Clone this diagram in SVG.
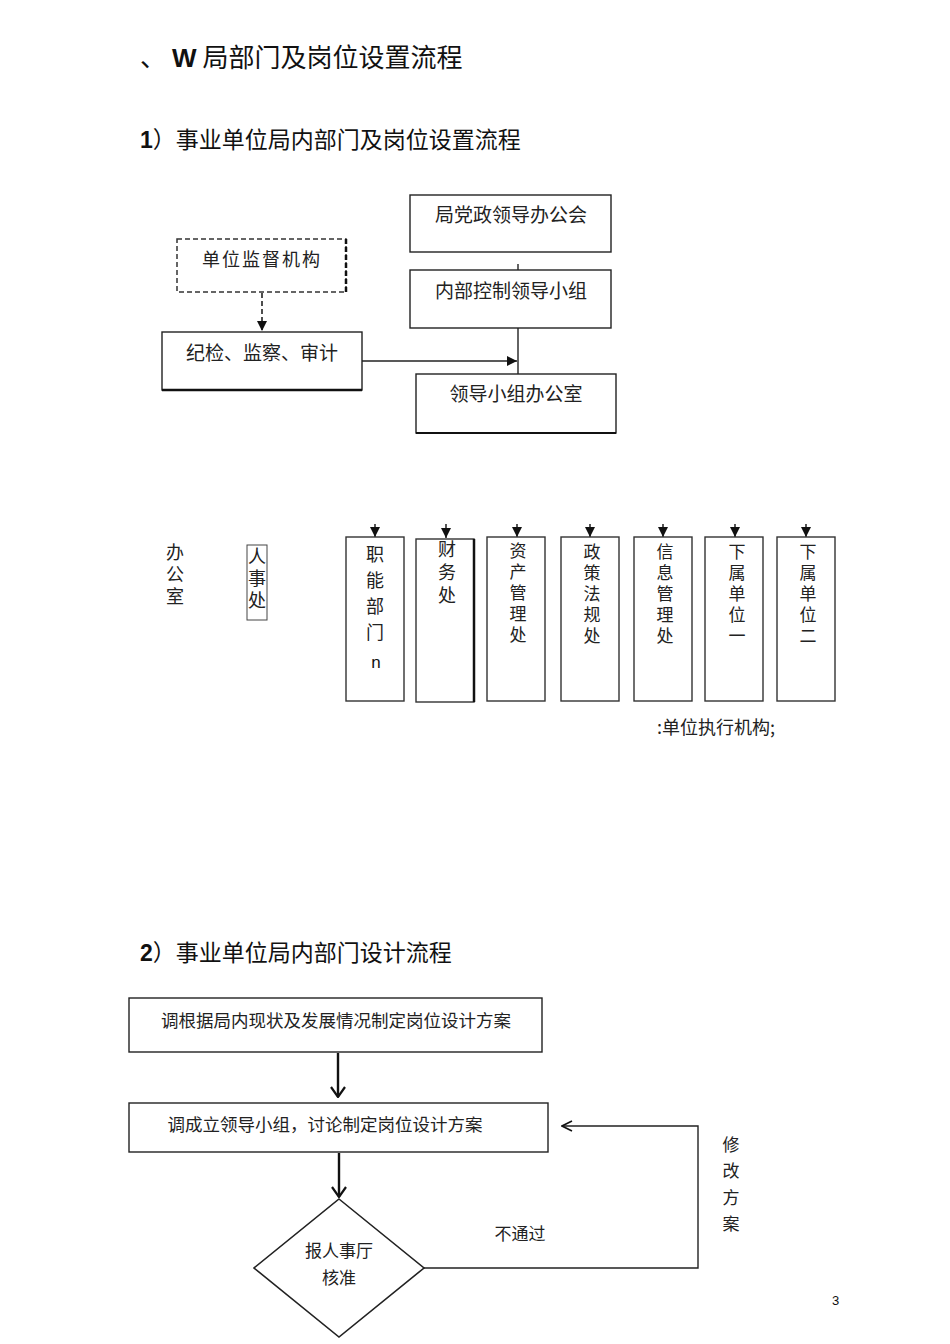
<svg xmlns="http://www.w3.org/2000/svg" width="950" height="1344" viewBox="0 0 950 1344">
<defs>
<style>
.t{font-family:"Noto Sans CJK SC","Liberation Sans",sans-serif;fill:#222;}
.h{font-family:"Liberation Sans","Noto Sans CJK SC",sans-serif;fill:#111;}
.v{writing-mode:vertical-rl;text-orientation:upright;}
.box{fill:#fff;stroke:#222;stroke-width:1.4;}
.col{fill:#fff;stroke:#333;stroke-width:1.4;}
.ln{fill:none;stroke:#222;stroke-width:1.4;}
.bt{font-size:19px;text-anchor:middle;}
.c5{font-size:17px;letter-spacing:4px;}
</style>
<marker id="tri" viewBox="0 0 10 10" refX="10" refY="5" markerWidth="10" markerHeight="10" markerUnits="userSpaceOnUse" orient="auto">
<path d="M0,0 L10,5 L0,10 z" fill="#111"/>
</marker>
<marker id="chev" viewBox="0 0 12 16" refX="11" refY="8" markerWidth="12" markerHeight="16" markerUnits="userSpaceOnUse" orient="auto">
<path d="M1,1 L11,8 L1,15" fill="none" stroke="#111" stroke-width="2.2"/>
</marker>
<marker id="chev2" viewBox="0 0 12 12" refX="11" refY="6" markerWidth="12" markerHeight="12" markerUnits="userSpaceOnUse" orient="auto">
<path d="M1,1 L11,6 L1,11" fill="none" stroke="#111" stroke-width="1.6"/>
</marker>
</defs>
<rect width="950" height="1344" fill="#fff"/>

<g id="titles">
<text class="h" x="140" y="67" font-size="26">、<tspan font-weight="bold" dx="6">W</tspan><tspan dx="6">局部门及岗位设置流程</tspan></text>
<text class="h" x="140" y="148" font-size="23"><tspan font-weight="bold">1</tspan>）事业单位局内部门及岗位设置流程</text>
<text class="h" x="140" y="961" font-size="23"><tspan font-weight="bold">2</tspan>）事业单位局内部门设计流程</text>
<text class="h" x="832" y="1305" font-size="13">3</text>
</g>

<g id="connectors">
<line class="ln" x1="518" y1="264" x2="518" y2="270"/>
<line class="ln" x1="518" y1="328" x2="518" y2="375"/>
<line x1="262" y1="293" x2="262" y2="331" stroke="#222" stroke-width="1.6" stroke-dasharray="5,3" marker-end="url(#tri)"/>
<line class="ln" x1="362" y1="361" x2="517" y2="361" marker-end="url(#tri)"/>
<g stroke="#111" stroke-width="1.4">
<line x1="375" y1="524" x2="375" y2="537" marker-end="url(#tri)"/>
<line x1="446" y1="524" x2="446" y2="538" marker-end="url(#tri)"/>
<line x1="517" y1="524" x2="517" y2="537" marker-end="url(#tri)"/>
<line x1="590" y1="524" x2="590" y2="537" marker-end="url(#tri)"/>
<line x1="663" y1="524" x2="663" y2="537" marker-end="url(#tri)"/>
<line x1="735" y1="524" x2="735" y2="537" marker-end="url(#tri)"/>
<line x1="806" y1="524" x2="806" y2="537" marker-end="url(#tri)"/>
</g>
<line x1="338" y1="1053" x2="338" y2="1097" stroke="#111" stroke-width="2.4" marker-end="url(#chev)"/>
<line x1="339" y1="1153" x2="339" y2="1197" stroke="#111" stroke-width="2.4" marker-end="url(#chev)"/>
<polyline class="ln" points="424,1268 698,1268 698,1126 562,1126" marker-end="url(#chev2)"/>
</g>

<g id="n_meeting">
<rect class="box" x="410" y="195" width="201" height="57"/>
<text class="t bt" x="511" y="222">局党政领导办公会</text>
</g>
<g id="n_control">
<rect class="box" x="410" y="270" width="201" height="58"/>
<text class="t bt" x="511" y="298">内部控制领导小组</text>
</g>
<g id="n_supervise">
<rect x="177" y="239" width="169" height="53" fill="#fff" stroke="#333" stroke-width="1.5" stroke-dasharray="5,3"/>
<line x1="346" y1="239" x2="346" y2="292" stroke="#111" stroke-width="2.5" stroke-dasharray="5,3"/>
<text class="t" x="262" y="266" font-size="18" text-anchor="middle" fill="#555" letter-spacing="2">单位监督机构</text>
</g>
<g id="n_audit">
<rect class="box" x="162" y="332" width="200" height="58"/>
<line x1="162" y1="390" x2="362" y2="390" stroke="#111" stroke-width="2.5"/>
<text class="t bt" x="262" y="360">纪检、监察、审计</text>
</g>
<g id="n_office">
<rect class="box" x="416" y="374" width="200" height="59"/>
<line x1="416" y1="433" x2="616" y2="433" stroke="#111" stroke-width="2"/>
<text class="t bt" x="516" y="401">领导小组办公室</text>
</g>

<g id="n_bangongshi">
<text class="t v" x="175" y="543" font-size="18" letter-spacing="4">办公室</text>
</g>
<g id="n_renshi">
<rect x="247" y="545" width="20" height="75" fill="#fff" stroke="#444" stroke-width="1"/>
<text class="t v" x="257" y="547" font-size="18" letter-spacing="4" fill="#111">人事处</text>
</g>

<g id="n_zhineng">
<rect class="col" x="346" y="537" width="58" height="164"/>
<text class="t v" x="375" y="545" font-size="18" letter-spacing="8">职能部门</text>
<text class="h" x="376" y="668" font-size="17" text-anchor="middle">n</text>
</g>
<g id="n_caiwu">
<rect class="col" x="416" y="539" width="58" height="163"/>
<line x1="474" y1="539" x2="474" y2="702" stroke="#111" stroke-width="2.5"/>
<text class="t v" x="447" y="540" font-size="18" letter-spacing="5">财务处</text>
</g>
<g id="n_zichan">
<rect class="col" x="487" y="537" width="58" height="164"/>
<text class="t v c5" x="518" y="542">资产管理处</text>
</g>
<g id="n_zhengce">
<rect class="col" x="561" y="537" width="58" height="164"/>
<text class="t v c5" x="592" y="543">政策法规处</text>
</g>
<g id="n_xinxi">
<rect class="col" x="634" y="537" width="58" height="164"/>
<text class="t v c5" x="665" y="543">信息管理处</text>
</g>
<g id="n_xiashu1">
<rect class="col" x="705" y="537" width="58" height="164"/>
<text class="t v c5" x="737" y="543">下属单位一</text>
</g>
<g id="n_xiashu2">
<rect class="col" x="777" y="537" width="58" height="164"/>
<text class="t v c5" x="808" y="543">下属单位二</text>
</g>
<g id="label_exec">
<text class="t" x="657" y="734" font-size="18">:单位执行机构;</text>
</g>

<g id="n_step1">
<rect class="box" x="129" y="998" width="413" height="54"/>
<text class="t" x="336" y="1027" font-size="17.5" text-anchor="middle">调根据局内现状及发展情况制定岗位设计方案</text>
</g>
<g id="n_step2">
<rect class="box" x="129" y="1103" width="419" height="49"/>
<text class="t" x="325" y="1131" font-size="17.5" text-anchor="middle">调成立领导小组，讨论制定岗位设计方案</text>
</g>
<g id="n_approve">
<polygon points="339,1199 424,1268 339,1337 254,1268" fill="#fff" stroke="#222" stroke-width="1.6"/>
<text class="t" x="339" y="1257" font-size="17" text-anchor="middle">报人事厅</text>
<text class="t" x="339" y="1284" font-size="17" text-anchor="middle">核准</text>
</g>
<g id="label_fail">
<text class="t" x="520" y="1240" font-size="17" text-anchor="middle">不通过</text>
</g>
<g id="label_modify">
<text class="t v" x="731" y="1136" font-size="17" letter-spacing="9.5">修改方案</text>
</g>
</svg>
